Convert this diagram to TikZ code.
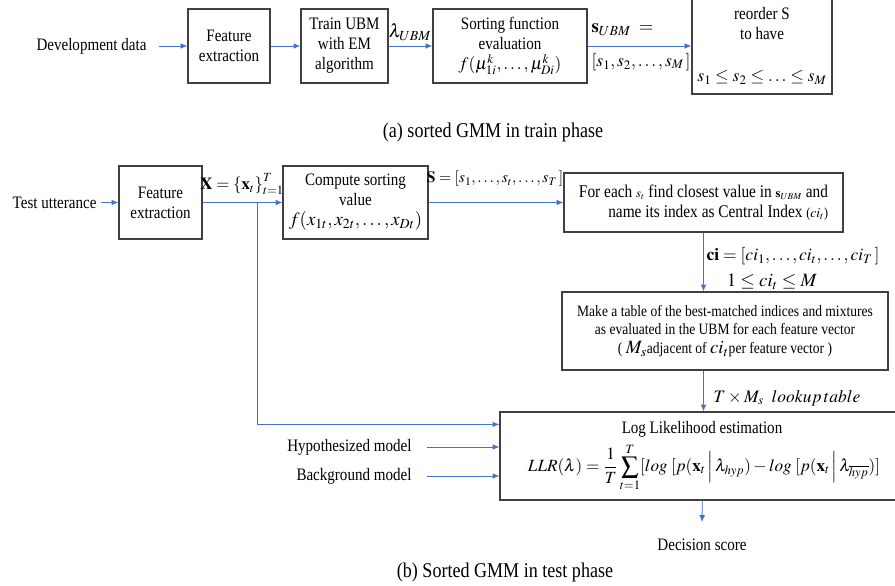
\documentclass[tikz,border=0pt]{standalone}
\usepackage{mathptmx}
\usepackage{fontspec}
\setmainfont[FakeStretch=0.86]{Liberation Serif}
\usetikzlibrary{arrows.meta}
\definecolor{arrblue}{HTML}{4472C4}

\begin{document}
\begin{tikzpicture}[semithick, x=0.8pt, y=-0.8pt,
  every node/.style={font=\fontsize{14}{16}\selectfont},
  box/.style={draw=black!75, line width=0.9pt, align=center, inner sep=1pt},
  lbl/.style={inner sep=1pt},
  arr/.style={draw=arrblue, line width=0.7pt, -{Latex[length=5.5pt,width=4.5pt]}}]
  \useasboundingbox (0,0) rectangle (895,586);

  \node[anchor=east] (dev) at (151,46) {Development data};
  \node[box, minimum width=65.6pt, minimum height=59.2pt] (fe1) at (229,46) {Feature\\extraction};
  \node[box, minimum width=69.6pt, minimum height=59.2pt] (ubm) at (344.5,46) {Train UBM\\with EM\\algorithm};
  \node[box, minimum width=123.2pt, minimum height=59.2pt] (sortf) at (510,46)
    {Sorting function\\evaluation\\{\fontsize{14}{14}\selectfont$f(\mu^{k}_{1i},\ldots,\mu^{k}_{Di})$}};
  \node[box, minimum width=112pt, minimum height=76.8pt] (reord) at (762,46)
    {reorder S\\to have\\[18pt]{\fontsize{14}{14}\selectfont$s_1\le s_2\le\ldots\le s_M$}};

  \node[lbl, font=\fontsize{15}{16}\selectfont] (lam) at (410,32) {$\lambda_{UBM}$};
  \node[lbl, anchor=west, font=\fontsize{15}{16}\selectfont] (subm) at (590,30) {$\mathbf{s}_{UBM}\ =$};
  \node[lbl, anchor=west, font=\fontsize{14}{16}\selectfont] (slist) at (590,62) {$[s_1,s_2,\ldots,s_M\,]$};

  \draw[arr, shorten <=6.4pt] (dev) -- (fe1);
  \draw[arr] (fe1) -- (ubm);
  \draw[arr] (ubm) -- (sortf);
  \draw[arr] (sortf) -- (reord);

  \node[font=\fontsize{16.8}{18}\selectfont] (capa) at (493,132) {(a) sorted GMM in train phase};

  \node[anchor=east] (test) at (101,202.5) {Test utterance};
  \node[box, minimum width=66.4pt, minimum height=58.4pt] (fe2) at (160.5,202.5) {Feature\\extraction};
  \node[box, minimum width=116pt, minimum height=58.4pt] (comp) at (355.5,202.5)
    {Compute sorting\\value\\{\fontsize{15}{15}\selectfont$f(x_{1t},x_{2t},\ldots,x_{Dt})$}};
  \node[box, minimum width=223.2pt, minimum height=47.2pt, align=right, font=\fontsize{14.3}{16}\selectfont] (each) at (703.5,202.5)
    {For each {\fontsize{10}{10}\selectfont$s_t$} find closest value in {\fontsize{10}{10}\selectfont$\mathbf{s}_{UBM}$} and\\
     name its index as Central Index {\fontsize{11}{11}\selectfont($ci_t$)}};
  \node[box, minimum width=260.8pt, minimum height=62.4pt, font=\fontsize{12.6}{15}\selectfont] (tab) at (725,331)
    {Make a table of the best-matched indices and mixtures\\as evaluated in the UBM for each feature vector\\
     ( {\fontsize{15}{15}\selectfont$M_s$}adjacent of {\fontsize{15}{15}\selectfont$ci_t$}per feature vector )};
  \node[box, minimum width=324pt, minimum height=70.4pt] (llr) at (702.5,456) {};
  \node (llrttl) at (702,429) {Log Likelihood estimation};
  \node[font=\fontsize{13.7}{15}\selectfont] (llrfml) at (704,467)
    {$\displaystyle LLR(\lambda)=\frac{1}{T}\sum_{t=1}^{T}[log\ [p(\mathbf{x}_t\,\Big|\,\lambda_{hyp})-log\ [p(\mathbf{x}_t\,\Big|\,\lambda_{\overline{hyp}})]$};

  \node[lbl, font=\fontsize{13.5}{15}\selectfont] (xlbl) at (242,184) {$\mathbf{X}=\left\{\mathbf{x}_t\right\}_{t=1}^{T}$};
  \node[lbl, font=\fontsize{12.5}{15}\selectfont] (slbl) at (495,179) {$\mathbf{S}=[s_1,\ldots,s_t,\ldots,s_T\,]$};
  \node[lbl, anchor=west, font=\fontsize{14}{15}\selectfont] (cilbl) at (705,256) {$\mathbf{ci}=[ci_1,\ldots,ci_t,\ldots,ci_T\,]$};
  \node[lbl, font=\fontsize{15}{15}\selectfont] (cirng) at (772,282) {$1\le ci_t\le M$};
  \node[lbl, anchor=west, font=\fontsize{14}{15}\selectfont] (lkp) at (712,398) {$T\times M_s\;\; lookup\,table$};

  \node[anchor=east] (hyp) at (416,447) {Hypothesized model};
  \node[anchor=east] (bgm) at (416,476) {Background model};
  \node (dec) at (702,545) {Decision score};

  \coordinate (br) at (257,202.5);
  \draw[arr] (test) -- (fe2);
  \draw[arr] (fe2) -- (comp);
  \draw[arr] (br) |- ([yshift=-10.4pt]llr.north west);
  \draw[arr] (comp) -- (each);
  \draw[arr] (each) -- (each.south |- tab.north);
  \draw[arr] (each.south |- tab.south) -- (each.south |- llr.north);
  \draw[arr, shorten <=8.8pt] (hyp) -- (hyp -| llr.west);
  \draw[arr, shorten <=8.8pt] (bgm) -- (bgm -| llr.west);
  \draw[arr, shorten >=10pt] (llr) -- (dec);

  \node[font=\fontsize{16.8}{18}\selectfont] (capb) at (505,572) {(b) Sorted GMM in test phase};
\end{tikzpicture}
\end{document}
